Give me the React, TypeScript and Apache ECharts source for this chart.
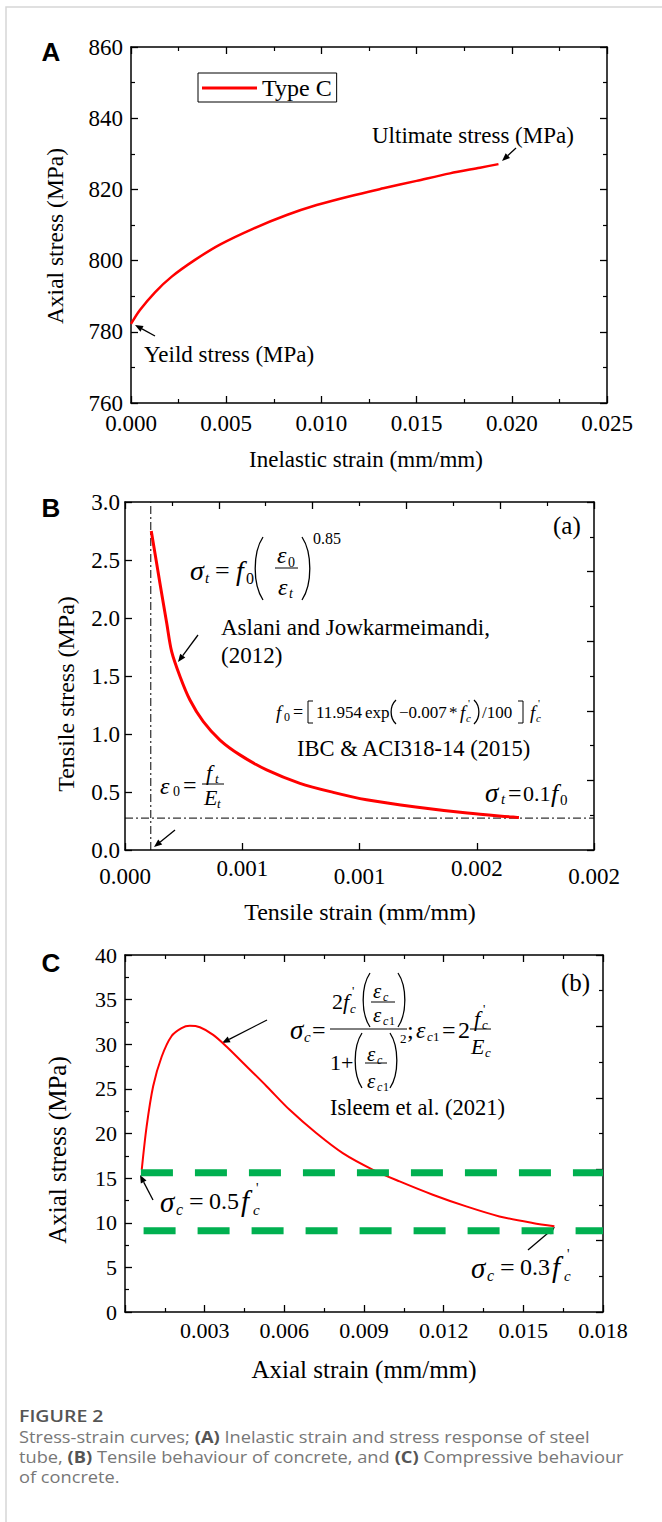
import React, { useEffect, useRef } from "react";
import * as echarts from "echarts";

// ---------- data ----------
const strainA = [0, 0.00047, 0.00126, 0.00214, 0.00336, 0.00467, 0.00643, 0.00818, 0.00975, 0.0115, 0.01325, 0.015, 0.01675, 0.01833, 0.0193];
const stressA = [782.2, 786.1, 791.1, 795.5, 800.2, 804.5, 809.0, 812.8, 815.6, 818.1, 820.3, 822.4, 824.5, 826.1, 827.1];

const strainB = [0.000112, 0.000149, 0.000178, 0.000199, 0.000235, 0.000277, 0.000334, 0.000405, 0.00049, 0.000604, 0.000746, 0.000888, 0.00103, 0.00124, 0.00146, 0.00168];
const stressB = [2.75, 2.3, 1.954, 1.71, 1.494, 1.293, 1.106, 0.948, 0.82, 0.69, 0.575, 0.497, 0.433, 0.37, 0.318, 0.28];
const eps0B = 0.00011;
const sigmaResB = 0.275;

const strainC = [0.00063, 0.000815, 0.00106, 0.00138, 0.00175, 0.00213, 0.00244, 0.00282, 0.00332, 0.00382, 0.00445, 0.00533, 0.0062, 0.0072, 0.0082, 0.00934, 0.01034, 0.01159, 0.01285, 0.0141, 0.01535, 0.01617];
const stressC = [15.93, 20.8, 25.3, 28.6, 30.9, 31.8, 32.06, 31.9, 31.05, 29.75, 27.9, 25.3, 22.65, 20.05, 17.8, 15.93, 14.63, 13.14, 11.83, 10.71, 9.97, 9.6];
const greenUpper = [[0.0006, 15.6], [0.018, 15.6]];
const greenLower = [[0.0007, 9.1], [0.018, 9.1]];

const xTicksA = ["0.000", "0.005", "0.010", "0.015", "0.020", "0.025"];
const yTicksA = ["760", "780", "800", "820", "840", "860"];
const xTicksB = ["0.000", "0.001", "0.001", "0.002", "0.002"];
const yTicksB = ["0.0", "0.5", "1.0", "1.5", "2.0", "2.5", "3.0"];
const xTicksC = ["", "0.003", "0.006", "0.009", "0.012", "0.015", "0.018"];
const yTicksC = ["0", "5", "10", "15", "20", "25", "30", "35", "40"];

const FONT = '"Liberation Serif", "Times New Roman", serif';
const SANS = '"Liberation Sans", Arial, sans-serif';
const CAP = '"Open Sans", "Noto Sans", sans-serif';

// ---------- helpers ----------
const txt = (text: string, x: number, y: number, size: number, o: any = {}) => ({
  type: "text",
  x,
  y,
  rotation: o.rot || 0,
  scaleX: o.sx || 1,
  silent: true,
  style: {
    text,
    fontFamily: o.ff || FONT,
    fontSize: size,
    fontStyle: o.it ? "italic" : "normal",
    fontWeight: o.bold ? "bold" : o.fw || "normal",
    fill: o.fill || "#000",
    align: o.align || "left",
    verticalAlign: o.va || "middle",
    textAlign: o.align || "left",
    textVerticalAlign: o.va || "middle",
    lineHeight: o.lh,
    rich: o.rich,
  },
});
const ln = (x1: number, y1: number, x2: number, y2: number, w = 1) => ({
  type: "line",
  silent: true,
  shape: { x1, y1, x2, y2 },
  style: { stroke: "#000", lineWidth: w },
});
const lparen = (x: number, top: number, bot: number, w = 7) => {
  const h = bot - top;
  return {
    type: "bezierCurve",
    silent: true,
    shape: { x1: x + w, y1: top, cpx1: x - w * 0.3, cpy1: top + h * 0.25, cpx2: x - w * 0.3, cpy2: bot - h * 0.25, x2: x + w, y2: bot },
    style: { stroke: "#000", lineWidth: 1.3, fill: null },
  };
};
const rparen = (x: number, top: number, bot: number, w = 7) => {
  const h = bot - top;
  return {
    type: "bezierCurve",
    silent: true,
    shape: { x1: x, y1: top, cpx1: x + w * 1.3, cpy1: top + h * 0.25, cpx2: x + w * 1.3, cpy2: bot - h * 0.25, x2: x, y2: bot },
    style: { stroke: "#000", lineWidth: 1.3, fill: null },
  };
};
const bracket = (x: number, top: number, bot: number, left: boolean) => ({
  type: "polyline",
  silent: true,
  shape: { points: left ? [[x + 5, top], [x, top], [x, bot], [x + 5, bot]] : [[x - 5, top], [x, top], [x, bot], [x - 5, bot]] },
  style: { stroke: "#000", lineWidth: 1, fill: null },
});
const arrow = (x1: number, y1: number, x2: number, y2: number) => {
  const a = Math.atan2(y2 - y1, x2 - x1);
  const L = 8, Wd = 3.2;
  const bx = x2 - L * Math.cos(a), by = y2 - L * Math.sin(a);
  return [
    ln(x1, y1, bx, by, 1.3),
    {
      type: "polygon",
      silent: true,
      shape: { points: [[x2, y2], [bx + Wd * Math.sin(a), by - Wd * Math.cos(a)], [bx - Wd * Math.sin(a), by + Wd * Math.cos(a)]] },
      style: { fill: "#000" },
    },
  ];
};

const axisCommon = (gridIndex: number, pos: string, interval: number, min: number, max: number, labels: string[] | null, margin = 8, minor = true, fs = 23) => ({
  type: "value",
  gridIndex,
  position: pos,
  min,
  max,
  interval,
  axisLine: { show: true, onZero: false, lineStyle: { color: "#000", width: 1.5 } },
  axisTick: { show: true, inside: true, length: 7, lineStyle: { color: "#000", width: 1.3 } },
  minorTick: { show: minor, splitNumber: 2, length: 4, lineStyle: { color: "#000", width: 1.2 } },
  splitLine: { show: false },
  minorSplitLine: { show: false },
  axisLabel: labels
    ? {
        show: true,
        margin,
        color: "#000",
        fontFamily: FONT,
        fontSize: fs,
        formatter: (v: number) => {
          const i = Math.round((v - min) / interval);
          return labels[i] ?? "";
        },
      }
    : { show: false },
});

export default function App() {
  const ref = useRef<HTMLDivElement>(null);
  useEffect(() => {
    document.body.style.margin = "0";
    if (!ref.current) return;
    const chart = echarts.init(ref.current, null, { renderer: "svg" });

    const xAxes: any[] = [
      axisCommon(0, "bottom", 0.005, 0, 0.025, xTicksA, 9),
      axisCommon(0, "top", 0.005, 0, 0.025, null),
      {
        ...axisCommon(1, "bottom", 0.0005, 0, 0.002, null, 7, false),
        axisLabel: {
          show: true,
          margin: 7,
          color: "#000",
          fontFamily: FONT,
          fontSize: 23,
          formatter: (v: number) => {
            const i = Math.round(v / 0.0005);
            return i % 2 === 0 ? `{lo|${xTicksB[i]}}` : `{hi|${xTicksB[i]}}`;
          },
          rich: {
            lo: { fontFamily: FONT, fontSize: 23, lineHeight: 38, color: "#000" },
            hi: { fontFamily: FONT, fontSize: 23, lineHeight: 23, color: "#000" },
          },
        },
      },
      axisCommon(1, "top", 0.0004, 0, 0.002, null),
      axisCommon(2, "bottom", 0.003, 0, 0.018, xTicksC, 7, true, 22),
      axisCommon(2, "top", 0.003, 0, 0.018, null),
    ];
    const yAxes: any[] = [
      axisCommon(0, "left", 20, 760, 860, yTicksA, 8),
      axisCommon(0, "right", 20, 760, 860, null),
      axisCommon(1, "left", 0.5, 0, 3, yTicksB, 5, false),
      axisCommon(1, "right", 0.6, 0, 3, null),
      axisCommon(2, "left", 5, 0, 40, yTicksC, 8, true, 22),
      axisCommon(2, "right", 8, 0, 40, null),
    ];

    const capRich = { b: { fontFamily: CAP, fontSize: 16, lineHeight: 17, fontWeight: "bold", fill: "#555" } };

    const graphic: any[] = [
      // card border
      { type: "rect", silent: true, shape: { x: 6, y: 7, width: 700, height: 1600 }, style: { fill: null, stroke: "#d6d6d6", lineWidth: 1.5 } },
      // panel letters
      txt("A", 51, 52, 26, { ff: SANS, bold: true, align: "center" }),
      txt("B", 51, 508, 26, { ff: SANS, bold: true, align: "center" }),
      txt("C", 51, 963, 26, { ff: SANS, bold: true, align: "center" }),
      // axis names
      txt("Inelastic strain (mm/mm)", 366, 459, 23, { align: "center" }),
      txt("Axial stress (MPa)", 55, 236, 23.5, { align: "center", rot: Math.PI / 2 }),
      txt("Tensile strain (mm/mm)", 360, 912, 24, { align: "center" }),
      txt("Tensile stress (MPa)", 66, 694, 24, { align: "center", rot: Math.PI / 2 }),
      txt("Axial strain (mm/mm)", 364, 1369, 25, { align: "center" }),
      txt("Axial stress (MPa)", 57, 1150, 25, { align: "center", rot: Math.PI / 2 }),
      // panel A annotations
      txt("Ultimate stress (MPa)", 372, 135, 23),
      ...arrow(516, 148, 502, 161),
      txt("Yeild stress (MPa)", 144, 354, 23),
      ...arrow(155, 336, 135, 325),
      // panel B annotations
      txt("(a)", 553, 525, 25),
      txt("σ", 190, 570, 28, { it: true }),
      txt("t", 205, 578, 15, { it: true }),
      txt("=", 215, 570, 26),
      txt("f", 236, 570, 28, { it: true }),
      txt("0", 246, 578, 16),
      lparen(255, 537, 600, 8),
      ln(275, 568, 298, 568, 1),
      txt("ε", 277, 555, 24, { it: true }),
      txt("0", 288, 562, 14),
      txt("ε", 278, 587, 24, { it: true }),
      txt("t", 289, 593, 14, { it: true }),
      rparen(302, 537, 600, 8),
      txt("0.85", 313, 538, 16),
      txt("Aslani and Jowkarmeimandi,", 221, 627, 23),
      txt("(2012)", 221, 655, 23),
      ...arrow(198, 635, 178, 662),
      // f0 formula
      txt("f", 276, 712, 19, { it: true }),
      txt("0", 284, 717, 12),
      txt("=", 293, 712, 18),
      bracket(308, 701, 723, true),
      txt("11.954", 316, 712, 17),
      txt("exp", 365, 712, 17),
      lparen(391, 700, 724, 5),
      txt("−0.007", 399, 712, 17),
      txt("*", 449, 712, 17),
      txt("f", 460, 712, 19, { it: true }),
      txt("'", 468, 703, 11),
      txt("c", 466, 718, 11, { it: true }),
      rparen(474, 700, 724, 5),
      txt("/100", 482, 712, 17),
      bracket(523, 701, 723, false),
      txt("f", 530, 712, 19, { it: true }),
      txt("'", 538, 703, 11),
      txt("c", 536, 718, 11, { it: true }),
      txt("IBC & ACI318-14 (2015)", 297, 748, 22.5),
      // eps0 = ft/Et
      txt("ε", 160, 786, 24, { it: true }),
      txt("0", 173, 791, 14),
      txt("=", 183, 785, 24),
      ln(202, 784, 224, 784, 1),
      txt("f", 206, 772, 22, { it: true }),
      txt("t", 215, 778, 13, { it: true }),
      txt("E", 204, 797, 22, { it: true }),
      txt("t", 217, 803, 13, { it: true }),
      ...arrow(175, 830, 154, 847),
      // sigma_t = 0.1 f0
      txt("σ", 485, 793, 27, { it: true }),
      txt("t", 501, 799, 15, { it: true }),
      txt("=", 508, 793, 24),
      txt("0.1", 523, 793, 22),
      txt("f", 551, 793, 26, { it: true }),
      txt("0", 560, 800, 15),
      // panel C annotations
      txt("(b)", 561, 982, 25),
      txt("σ", 290, 1030, 27, { it: true }),
      txt("c", 304, 1037, 15, { it: true }),
      txt("=", 312, 1030, 24),
      ln(330, 1029, 407, 1029, 1),
      txt("2", 332, 1001, 22),
      txt("f", 343, 1001, 22, { it: true }),
      txt("'", 352, 990, 13),
      txt("c", 350, 1008, 13, { it: true }),
      lparen(363, 973, 1027, 7),
      ln(371, 1002, 395, 1002, 1),
      txt("ε", 373, 991, 21, { it: true }),
      txt("c", 383, 997, 12, { it: true }),
      txt("ε", 373, 1015, 21, { it: true }),
      txt("c", 383, 1021, 12, { it: true }),
      txt("1", 389, 1021, 12),
      rparen(398, 973, 1027, 7),
      txt("1+", 330, 1062, 22),
      lparen(355, 1033, 1088, 7),
      ln(365, 1063, 387, 1063, 1),
      txt("ε", 367, 1054, 21, { it: true }),
      txt("c", 377, 1060, 12, { it: true }),
      txt("ε", 367, 1081, 21, { it: true }),
      txt("c", 377, 1087, 12, { it: true }),
      txt("1", 383, 1087, 12),
      rparen(390, 1033, 1088, 7),
      txt("2", 400, 1038, 13),
      txt(";", 407, 1030, 24),
      txt("ε", 416, 1030, 24, { it: true }),
      txt("c", 427, 1036, 13, { it: true }),
      txt("1", 433, 1036, 13),
      txt("=", 442, 1030, 24),
      txt("2", 458, 1030, 24),
      ln(470, 1029, 491, 1029, 1),
      txt("f", 474, 1018, 22, { it: true }),
      txt("'", 483, 1008, 13),
      txt("c", 482, 1024, 13, { it: true }),
      txt("E", 471, 1046, 22, { it: true }),
      txt("c", 485, 1052, 13, { it: true }),
      txt("Isleem et al. (2021)", 330, 1107, 22.5),
      ...arrow(267, 1020, 222, 1043),
      // sigma_c = 0.5 f'c
      txt("σ", 160, 1202, 29, { it: true }),
      txt("c", 176, 1209, 16, { it: true }),
      txt("=", 189, 1201, 26),
      txt("0.5", 209, 1201, 24),
      txt("f", 241, 1201, 29, { it: true }),
      txt("'", 256, 1188, 14),
      txt("c", 253, 1210, 15, { it: true }),
      ...arrow(153, 1200, 140, 1175),
      // sigma_c = 0.3 f'c
      txt("σ", 471, 1268, 29, { it: true }),
      txt("c", 487, 1275, 16, { it: true }),
      txt("=", 500, 1267, 26),
      txt("0.3", 520, 1267, 24),
      txt("f", 552, 1267, 29, { it: true }),
      txt("'", 567, 1254, 14),
      txt("c", 564, 1276, 15, { it: true }),
      ...arrow(528, 1250, 555, 1227),
      // caption
      txt("FIGURE 2", 19, 1416, 16, { ff: CAP, fill: "#555", fw: 600, sx: 1.22, lh: 17 }),
      txt("Stress-strain curves; {b|(A)} Inelastic strain and stress response of steel", 19, 1437, 16, { ff: CAP, fill: "#777", rich: capRich, lh: 17, sx: 1.14 }),
      txt("tube, {b|(B)} Tensile behaviour of concrete, and {b|(C)} Compressive behaviour", 19, 1457, 16, { ff: CAP, fill: "#777", rich: capRich, lh: 17, sx: 1.14 }),
      txt("of concrete.", 19, 1477, 16, { ff: CAP, fill: "#777", lh: 17, sx: 1.14 }),
    ];

    const option: any = {
      animation: false,
      backgroundColor: "#fff",
      grid: [
        { left: 131, top: 47, width: 476, height: 356 },
        { left: 125, top: 502, width: 469, height: 348 },
        { left: 125, top: 955, width: 478, height: 357 },
      ],
      legend: {
        show: true,
        data: ["Type C"],
        left: 198,
        top: 73,
        borderColor: "#000",
        borderWidth: 1,
        padding: [3, 5, 2, 4],
        icon: "rect",
        itemWidth: 55,
        itemHeight: 3,
        textStyle: { fontFamily: FONT, fontSize: 24, color: "#000", lineHeight: 24 },
      },
      xAxis: xAxes,
      yAxis: yAxes,
      series: [
        {
          type: "line",
          name: "Type C",
          xAxisIndex: 0,
          yAxisIndex: 0,
          data: strainA.map((x, i) => [x, stressA[i]]),
          symbol: "none",
          smooth: 0.3,
          lineStyle: { color: "#ff0000", width: 2.5 },
          itemStyle: { color: "#ff0000" },
        },
        {
          type: "line",
          xAxisIndex: 2,
          yAxisIndex: 2,
          data: [[eps0B, 0], [eps0B, 3]],
          symbol: "none",
          lineStyle: { color: "#000", width: 1, type: [8, 3, 2, 3] },
        },
        {
          type: "line",
          xAxisIndex: 2,
          yAxisIndex: 2,
          data: [[0, sigmaResB], [0.002, sigmaResB]],
          symbol: "none",
          lineStyle: { color: "#000", width: 1, type: [8, 3, 2, 3] },
        },
        {
          type: "line",
          xAxisIndex: 2,
          yAxisIndex: 2,
          data: strainB.map((x, i) => [x, stressB[i]]),
          symbol: "none",
          smooth: 0.3,
          lineStyle: { color: "#ff0000", width: 3 },
        },
        {
          type: "line",
          xAxisIndex: 4,
          yAxisIndex: 4,
          data: strainC.map((x, i) => [x, stressC[i]]),
          symbol: "none",
          smooth: 0.3,
          lineStyle: { color: "#ff0000", width: 2 },
        },
        {
          type: "line",
          xAxisIndex: 4,
          yAxisIndex: 4,
          data: greenUpper,
          symbol: "none",
          lineStyle: { color: "#00b050", width: 7, type: [32, 22] },
        },
        {
          type: "line",
          xAxisIndex: 4,
          yAxisIndex: 4,
          data: greenLower,
          symbol: "none",
          lineStyle: { color: "#00b050", width: 7, type: [32, 22] },
        },
      ],
      graphic,
    };
    chart.setOption(option);
    return () => chart.dispose();
  }, []);
  return <div ref={ref} style={{ width: 662, height: 1522 }} />;
}
